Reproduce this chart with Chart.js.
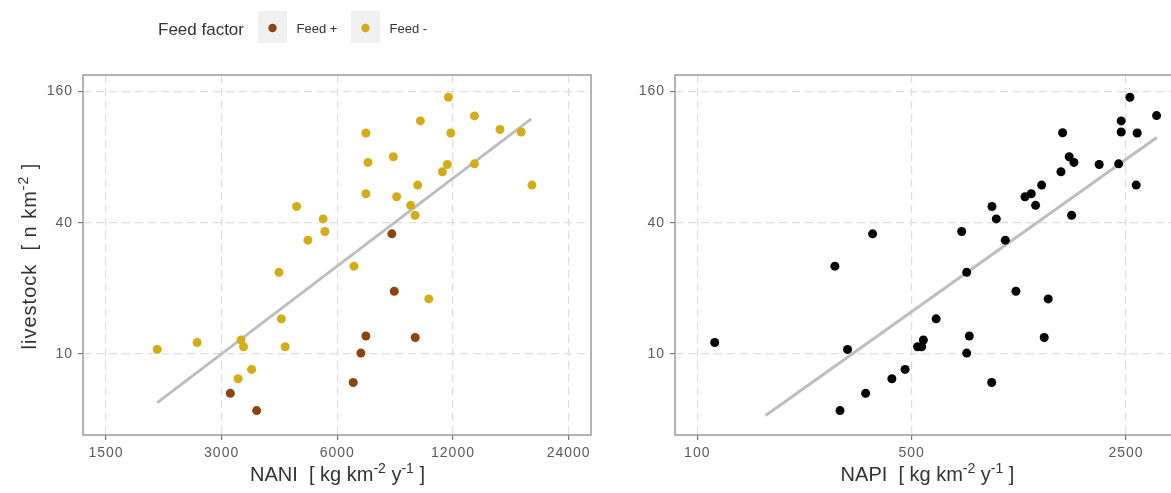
<!DOCTYPE html>
<html>
<head>
<meta charset="utf-8">
<title>Livestock vs NANI / NAPI</title>
<script src="https://cdn.jsdelivr.net/npm/chart.js@4.4.1/dist/chart.umd.min.js"></script>
<style>
  body { margin: 0; width: 1171px; height: 493px; overflow: hidden; background: #fff; position: relative; }
  canvas { position: absolute; top: 0; }
  #nani { left: 0; }
  #napi { left: 600px; }
</style>
</head>
<body>
<canvas id="nani" width="600" height="493"></canvas>
<canvas id="napi" width="600" height="493"></canvas>
<script>
// catchments with feed import (Feed +)
var naniFeedPlus = [8320, 3160, 3700, 8440, 7120, 9570, 6910, 6600];
var livestockFeedPlus = [35.6, 6.6, 5.5, 19.4, 12.1, 11.9, 10.1, 7.4];

// catchments without feed import (Feed -)
var naniFeedMinus = [11670, 13650, 9870, 7120, 11840, 15900, 18060, 8390, 7210, 11600,
                     13650, 11260, 9710, 19260, 7120, 8560, 9310, 9560, 6630, 4700,
                     5510, 5570, 5030, 4230, 4290, 2590, 2040, 3370, 3420, 4390,
                     3590, 3310, 10380];
var livestockFeedMinus = [150.8, 123.8, 117.4, 103.3, 103.3, 107.2, 104.4, 80.4, 75.7, 74.1,
                          74.6, 68.6, 59.6, 59.6, 54.4, 52.7, 48.1, 43.3, 25.3, 47.5,
                          41.7, 36.5, 33.3, 23.7, 14.5, 11.3, 10.5, 11.6, 10.8, 10.8,
                          8.5, 7.7, 17.9];

// NAPI panel
var napi = [373, 2574, 3145, 2411, 1553, 2411, 2719, 1632, 1691, 2044,
            2365, 1534, 1327, 2699, 1227, 1171, 1268, 914, 944, 1662,
            728, 1010, 281, 114, 309, 476, 431, 354, 292, 756,
            1094, 1394, 601, 546, 523, 539, 771, 1353, 756, 912];
var livestockNapi = [35.6, 150.8, 124.2, 117.4, 103.6, 104.4, 103.3, 80.4, 75.7, 74.1,
                     74.6, 68.6, 59.6, 59.6, 54.4, 52.7, 48.1, 47.5, 41.7, 43.3,
                     36.5, 33.3, 25.3, 11.3, 10.5, 8.5, 7.7, 6.6, 5.5, 23.7,
                     19.4, 17.9, 14.5, 11.6, 10.8, 10.8, 12.1, 11.9, 10.1, 7.4];

// fitted lines (end points)
var naniFitX = [2040, 19180];
var naniFitY = [5.98, 120];
var napiFitX = [167, 3150];
var napiFitY = [5.22, 98.5];

// tick labels
var naniTicks = [1500, 3000, 6000, 12000, 24000];
var napiTicks = [100, 500, 2500];
var livestockTicks = [10, 40, 160];

var feedLabels = ['Feed +', 'Feed -'];
var feedColors = ['#8b4513', '#d3ad17'];

var FONT = '"Liberation Sans", Arial, sans-serif';

function pts(xs, ys) {
  return xs.map(function (x, i) { return { x: x, y: ys[i] }; });
}

function fixedTicks(values) {
  return function (scale) {
    scale.ticks = values.map(function (v) { return { value: v }; });
  };
}

// text with superscripts, centred on (x, y)
function drawRich(ctx, parts, x, y, size, vertical, spacing) {
  var main = size + 'px ' + FONT;
  var small = Math.round(size * 0.7) + 'px ' + FONT;
  ctx.save();
  ctx.letterSpacing = spacing || '0px';
  ctx.translate(x, y);
  if (vertical) ctx.rotate(-Math.PI / 2);
  ctx.fillStyle = '#333';
  ctx.textBaseline = 'alphabetic';
  var w = 0;
  parts.forEach(function (p) { ctx.font = p.sup ? small : main; w += ctx.measureText(p.t).width; });
  var cx = -w / 2;
  parts.forEach(function (p) {
    ctx.font = p.sup ? small : main;
    ctx.fillText(p.t, cx, p.sup ? -size * 0.42 : 0);
    cx += ctx.measureText(p.t).width;
  });
  ctx.restore();
}

// slightly spaced tick labels
var tickSpacing = {
  id: 'tickSpacing',
  beforeDraw: function (chart) { chart.ctx.letterSpacing = '1px'; },
  afterDatasetsDraw: function (chart) { chart.ctx.letterSpacing = '0px'; }
};

var panelFrame = {
  id: 'panelFrame',
  afterDraw: function (chart) {
    var a = chart.chartArea, ctx = chart.ctx;
    ctx.save();
    ctx.strokeStyle = '#8c8c8c';
    ctx.lineWidth = 1.3;
    ctx.strokeRect(a.left, a.top, a.right - a.left, a.bottom - a.top);
    ctx.restore();
  }
};

var axisTitles = {
  id: 'axisTitles',
  afterDraw: function (chart, args, opts) {
    var ctx = chart.ctx;
    drawRich(ctx, opts.x.parts, opts.x.cx, 481, 20, false, '0px');
    if (opts.y) drawRich(ctx, opts.y.parts, 36, 256, 20, true, '1px');
  }
};

var feedLegend = {
  id: 'feedLegend',
  afterDraw: function (chart, args, opts) {
    if (!opts.show) return;
    var ctx = chart.ctx;
    ctx.save();
    ctx.letterSpacing = '0px';
    ctx.fillStyle = '#333';
    ctx.textBaseline = 'alphabetic';
    ctx.font = '17px ' + FONT;
    ctx.fillText('Feed factor', 158, 35);
    var keyX = [258, 351];
    feedLabels.forEach(function (lab, i) {
      ctx.fillStyle = '#f0f0f0';
      ctx.fillRect(keyX[i], 11, 29, 32);
      ctx.fillStyle = feedColors[i];
      ctx.beginPath();
      ctx.arc(keyX[i] + 14.5, 28, 4.2, 0, Math.PI * 2);
      ctx.fill();
      ctx.fillStyle = '#333';
      ctx.font = '13px ' + FONT;
      ctx.fillText(lab, keyX[i] + 38.5, 33);
    });
    ctx.restore();
  }
};

function axisOpts(min, max, ticks, fitSize) {
  return {
    type: 'logarithmic',
    min: min,
    max: max,
    bounds: 'data',
    afterBuildTicks: fixedTicks(ticks),
    afterFit: function (scale) {
      if (scale.isHorizontal()) scale.height = fitSize; else scale.width = fitSize;
    },
    grid: { color: '#dedede', lineWidth: 1.2, tickLength: 5, tickColor: '#7a7a7a', tickWidth: 1.2 },
    border: { display: false, dash: [8, 5] },
    ticks: {
      autoSkip: false, maxRotation: 0, padding: 5,
      color: '#5a5a5a', font: { family: FONT, size: 14 },
      callback: function (v) { return String(v); }
    }
  };
}

function fitLine(xs, ys) {
  return {
    type: 'line', data: pts(xs, ys), order: 5,
    borderColor: '#bebebe', borderWidth: 3, pointRadius: 0, fill: false
  };
}

var pointStyle = { pointRadius: 4.5, pointBorderWidth: 0, pointHoverRadius: 4.5 };

new Chart(document.getElementById('nani'), {
  type: 'scatter',
  data: {
    datasets: [
      Object.assign({ label: feedLabels[0], data: pts(naniFeedPlus, livestockFeedPlus), backgroundColor: feedColors[0], order: 1 }, pointStyle),
      Object.assign({ label: feedLabels[1], data: pts(naniFeedMinus, livestockFeedMinus), backgroundColor: feedColors[1], order: 1 }, pointStyle),
      fitLine(naniFitX, naniFitY)
    ]
  },
  options: {
    responsive: false,
    animation: false,
    layout: { padding: { top: 75, right: 9, left: 0, bottom: 0 } },
    scales: {
      x: axisOpts(1307, 27435, naniTicks, 58),
      y: axisOpts(4.25, 190.7, livestockTicks, 83)
    },
    plugins: {
      legend: { display: false },
      tooltip: { enabled: false },
      feedLegend: { show: true },
      axisTitles: {
        x: { cx: 337.5, parts: [{ t: 'NANI  [ kg km' }, { t: '-2', sup: true }, { t: ' y' }, { t: '-1', sup: true }, { t: ' ]' }] },
        y: { parts: [{ t: 'livestock  [ n km' }, { t: '-2', sup: true }, { t: ' ]' }] }
      }
    }
  },
  plugins: [tickSpacing, panelFrame, axisTitles, feedLegend]
});

new Chart(document.getElementById('napi'), {
  type: 'scatter',
  data: {
    datasets: [
      Object.assign({ label: 'NAPI', data: pts(napi, livestockNapi), backgroundColor: '#000', order: 1 }, pointStyle),
      fitLine(napiFitX, napiFitY)
    ]
  },
  options: {
    responsive: false,
    animation: false,
    layout: { padding: { top: 75, right: 17, left: 0, bottom: 0 } },
    scales: {
      x: axisOpts(84.6, 3835, napiTicks, 58),
      y: axisOpts(4.25, 190.7, livestockTicks, 75)
    },
    plugins: {
      legend: { display: false },
      tooltip: { enabled: false },
      axisTitles: {
        x: { cx: 327.5, parts: [{ t: 'NAPI  [ kg km' }, { t: '-2', sup: true }, { t: ' y' }, { t: '-1', sup: true }, { t: ' ]' }] }
      }
    }
  },
  plugins: [tickSpacing, panelFrame, axisTitles]
});
</script>
</body>
</html>
